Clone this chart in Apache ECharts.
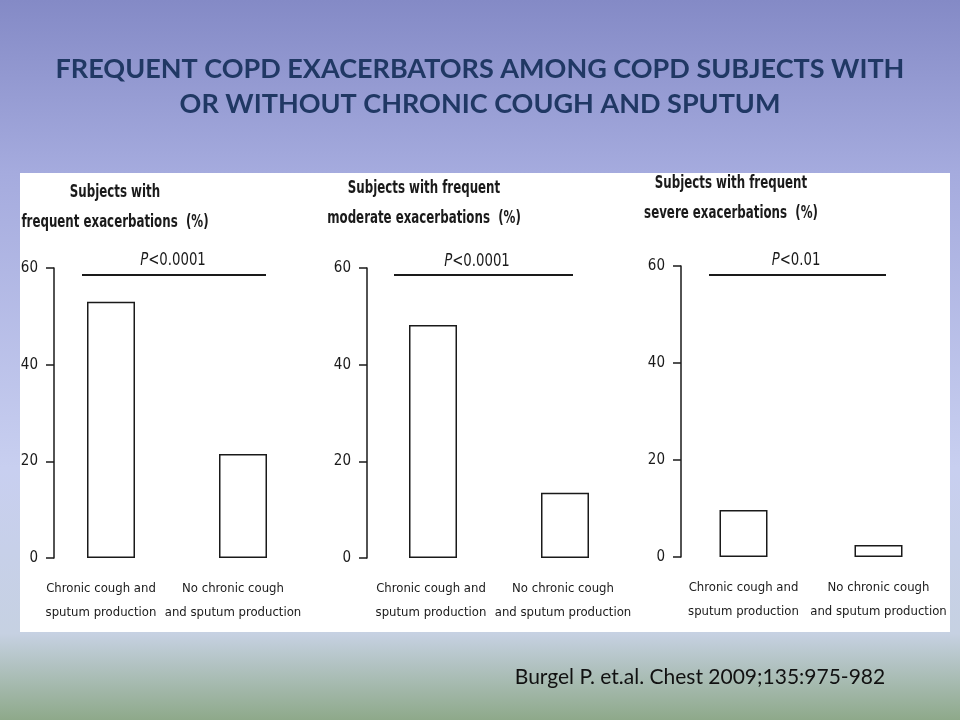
<!DOCTYPE html>
<html>
<head>
<meta charset="utf-8">
<script src="https://cdn.jsdelivr.net/npm/echarts@6/dist/echarts.min.js"></script>
<style>
  html, body { margin: 0; padding: 0; }
  body {
    width: 960px; height: 720px; overflow: hidden; position: relative;
    background: linear-gradient(to bottom, #848ac6 0%, #a5abde 24%, #c8cff0 65%, #c6d1e2 88%, #8ea98a 100%);
  }
  /* white panel behind the three plots */
  .panel { position: absolute; left: 20px; top: 173px; width: 930px; height: 459px; background: #fff; }
  #main { position: absolute; left: 0; top: 0; width: 960px; height: 720px; }
</style>
</head>
<body>
<div class="panel"></div>
<div id="main"></div>
<script>
// data
const categories = ['Chronic cough and\nsputum production', 'No chronic cough\nand sputum production'];
const panelTitles = [
  'Subjects with\nfrequent exacerbations  (%)',
  'Subjects with frequent\nmoderate exacerbations  (%)',
  'Subjects with frequent\nsevere exacerbations  (%)'
];
const frequentAll = [53, 21.5];
const frequentModerate = [48.2, 13.5];
const frequentSevere = [9.7, 2.5];
const pValues = ['<0.0001', '<0.0001', '<0.01'];
const yMin = 0, yMax = 60, yStep = 20;

const narrow = '"Liberation Sans Narrow", "DejaVu Sans Condensed", "Arial Narrow", sans-serif';
const seriesData = [frequentAll, frequentModerate, frequentSevere];

// layout of each small plot (pixels)
const plots = [
  { left: 45, top: 268, width: 264, height: 290, axisOffset: -9, labelPad: 20, titleX: 115, titleY: 207, pX: 173, pY: 260, lineX: [82, 266] },
  { left: 367, top: 268, width: 264, height: 290, axisOffset: 0, labelPad: 4, titleX: 424, titleY: 203, pX: 477, pY: 261, lineX: [394, 573] },
  { left: 676, top: 266, width: 270, height: 291, axisOffset: -5, labelPad: 0, titleX: 731, titleY: 198, pX: 796, pY: 260, lineX: [709, 886] }
];

let chart = echarts.init(document.getElementById('main'));

let grid = [], xAxis = [], yAxis = [], series = [], graphic = [];

plots.forEach((p, i) => {
  grid.push({ left: p.left, top: p.top, width: p.width, height: p.height, containLabel: false });
  xAxis.push({
    type: 'category',
    gridIndex: i,
    data: categories,
    axisLine: { show: false },
    axisTick: { show: false },
    axisLabel: {
      interval: 0,
      hideOverlap: false,
      margin: 19,
      fontFamily: narrow,
      fontSize: 13,
      lineHeight: 24,
      color: '#1a1a1a',
      padding: [0, p.labelPad, 0, 0]
    }
  });
  yAxis.push({
    type: 'value',
    gridIndex: i,
    min: yMin,
    max: yMax,
    interval: yStep,
    offset: p.axisOffset,
    splitLine: { show: false },
    axisLine: { show: true, lineStyle: { color: '#1a1a1a', width: 1.5 } },
    axisTick: { show: true, length: 8, lineStyle: { color: '#1a1a1a', width: 1.5 } },
    axisLabel: { margin: 16, fontFamily: narrow, fontSize: 15, color: '#1a1a1a' }
  });
  series.push({
    type: 'bar',
    xAxisIndex: i,
    yAxisIndex: i,
    barWidth: 48,
    data: seriesData[i],
    itemStyle: { color: '#fff', borderColor: '#1a1a1a', borderWidth: 1.5 },
    emphasis: { disabled: true }
  });

  // plot heading, squeezed to look like a narrow face
  graphic.push({
    type: 'text',
    x: p.titleX,
    y: p.titleY,
    scaleX: 0.73,
    style: {
      text: panelTitles[i],
      font: 'bold 18px ' + narrow,
      fill: '#1a1a1a',
      textAlign: 'center',
      textVerticalAlign: 'middle',
      lineHeight: 30
    }
  });
  // significance bar and p value
  graphic.push({
    type: 'line',
    shape: { x1: p.lineX[0], y1: 275, x2: p.lineX[1], y2: 275 },
    style: { stroke: '#1a1a1a', lineWidth: 2 }
  });
  graphic.push({
    type: 'text',
    x: p.pX,
    y: p.pY,
    scaleX: 0.82,
    style: {
      text: '{i|P}' + pValues[i],
      rich: { i: { fontStyle: 'italic', fontFamily: narrow, fontSize: 18, fill: '#1a1a1a' } },
      font: '18px ' + narrow,
      fill: '#1a1a1a',
      textAlign: 'center',
      textVerticalAlign: 'middle'
    }
  });
});

// slide title and citation
graphic.push({
  type: 'text',
  x: 480,
  y: 87,
  style: {
    text: 'FREQUENT COPD EXACERBATORS AMONG COPD SUBJECTS WITH\nOR WITHOUT CHRONIC COUGH AND SPUTUM',
    font: 'bold 27px Lato, "Open Sans", sans-serif',
    fill: '#203864',
    textAlign: 'center',
    textVerticalAlign: 'middle',
    lineHeight: 35
  }
});
graphic.push({
  type: 'text',
  x: 700,
  y: 677,
  style: {
    text: 'Burgel P. et.al. Chest 2009;135:975-982',
    font: '21px Lato, "Open Sans", sans-serif',
    fill: '#111',
    textAlign: 'center',
    textVerticalAlign: 'middle'
  }
});

let option = {
  animation: false,
  grid: grid,
  xAxis: xAxis,
  yAxis: yAxis,
  series: series,
  graphic: graphic
};
chart.setOption(option);
</script>
</body>
</html>
